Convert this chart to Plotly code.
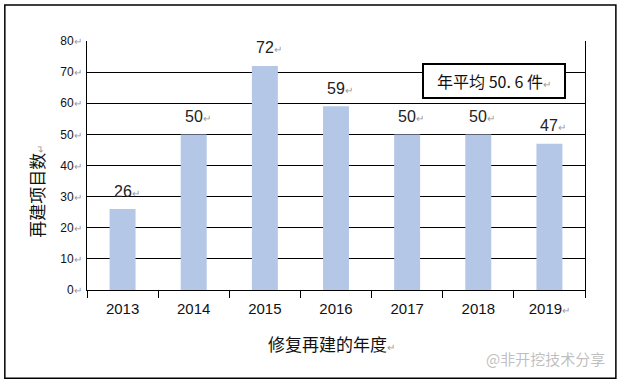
import plotly.graph_objects as go

years = ["2013", "2014", "2015", "2016", "2017", "2018", "2019"]
counts = [26, 50, 72, 59, 50, 50, 47]
y_ticks = [0, 10, 20, 30, 40, 50, 60, 70, 80]
avg_label = "年平均 50. 6 件"
x_title = "修复再建的年度"
y_title = "再建项目数"
watermark = "@非开挖技术分享"

MARK = "<span style='color:#9a9a9a;font-size:10px'>↵</span>"
NUMF = "Liberation Sans, Arial, sans-serif"
CJKF = "Noto Sans CJK SC, sans-serif"

fig = go.Figure()
fig.add_trace(go.Bar(
    x=years, y=counts,
    marker=dict(color="#B4C7E7", line=dict(width=0)),
    width=0.365,
    hoverinfo="x+y",
))

annotations = []
for i, v in enumerate(counts):
    annotations.append(dict(
        x=i, y=v, xref="x", yref="y", text=f"{v}{MARK}", showarrow=False,
        yanchor="middle", yshift=18, xshift=4,
        font=dict(family=NUMF, size=16, color="#222"),
    ))

annotations += [
    dict(xref="paper", yref="y", x=0.817, y=67.1, xanchor="center", yanchor="middle",
         text=avg_label + MARK, showarrow=False,
         font=dict(family=CJKF, size=16, color="#111"),
         bordercolor="black", borderwidth=2, borderpad=4, bgcolor="white",
         width=132, height=24),
    dict(xref="paper", yref="paper", x=-0.102, y=0.395, xanchor="center", yanchor="middle",
         text=y_title + MARK, textangle=-90, showarrow=False,
         font=dict(family=CJKF, size=17, color="#111")),
    dict(xref="paper", yref="paper", x=0.49, y=-0.213, xanchor="center", yanchor="middle",
         text=x_title + MARK, showarrow=False,
         font=dict(family=CJKF, size=17, color="#111")),
    dict(xref="paper", yref="paper", x=1.044, y=-0.276, xanchor="right", yanchor="middle",
         text=watermark, showarrow=False,
         font=dict(family=CJKF, size=15, color="rgba(170,170,170,0.75)")),
]

fig.update_layout(
    width=622, height=383,
    margin=dict(l=87, r=37, t=41, b=93),
    paper_bgcolor="white", plot_bgcolor="white",
    showlegend=False,
    xaxis=dict(
        type="category",
        range=[-0.5, len(years) - 0.5],
        tickvals=years,
        ticktext=[y if i < len(years) - 1 else y + MARK for i, y in enumerate(years)],
        tickfont=dict(family=NUMF, size=15, color="#111"),
        showline=True, linecolor="black", linewidth=1,
        ticks="outside", tickson="boundaries", ticklen=7, tickcolor="black",
        ticklabelstandoff=5,
        showgrid=False,
    ),
    yaxis=dict(
        range=[0, 80],
        tickvals=y_ticks,
        ticktext=[f"{v}{MARK}" for v in y_ticks],
        tickfont=dict(family=NUMF, size=12, color="#111"),
        showline=True, linecolor="black", linewidth=1, mirror=True,
        showgrid=True, gridcolor="black", gridwidth=1,
        zeroline=False, ticks="", ticklabelstandoff=2,
    ),
    shapes=[
        dict(type="rect", xref="paper", yref="paper",
             x0=-0.165, x1=1.062, y0=-0.354, y1=1.145,
             line=dict(color="black", width=1.5), fillcolor="rgba(0,0,0,0)", layer="below"),
    ],
    annotations=annotations,
)

fig.write_html("out.html", config={"displayModeBar": False},
               post_script="document.body.style.margin='0';document.body.style.overflow='hidden';")
